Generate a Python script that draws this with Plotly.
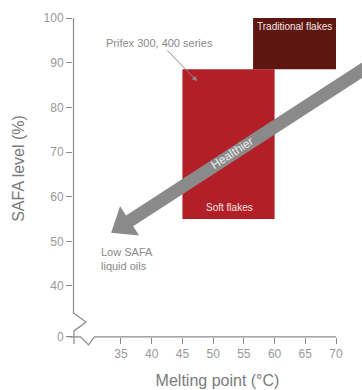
import math
import plotly.graph_objects as go

# ---- data ----
products = ["Soft flakes", "Traditional flakes"]
melt_min = [45, 56.5]
melt_max = [60, 70]
safa_min = [55, 88.5]
safa_max = [88.5, 100]
product_colors = ["#b21f27", "#5e1610"]

x_tickvals = [35, 40, 45, 50, 55, 60, 65, 70]
y_ticktext = ["0", "40", "50", "60", "70", "80", "90", "100"]
Y_ZERO_POS = 28.6  # broken axis: "0" drawn below the break
y_tickvals = [Y_ZERO_POS, 40, 50, 60, 70, 80, 90, 100]

# arrow "Healthier" endpoints (data units)
arrow_tail = (78.8, 92.4)
arrow_tip = (33.4, 51.9)

# ---- layout geometry ----
W, H = 362, 390
L, R, T, B = 73, 0, 0, 53
PW, PH = W - L - R, H - T - B
XR = [27.19, 74.23]
YR = [28.58, 104.03]


def x2px(x):
    return L + (x - XR[0]) / (XR[1] - XR[0]) * PW


def y2px(y):
    return T + (YR[1] - y) / (YR[1] - YR[0]) * PH


def px2x(p):
    return XR[0] + (p - L) / PW * (XR[1] - XR[0])


def py2y(p):
    return YR[1] - (p - T) / PH * (YR[1] - YR[0])


def pxpaper(p):
    return (p - L) / PW


def pypaper(p):
    return (T + PH - p) / PH


fig = go.Figure()

for name, x0, x1, y0, y1, c in zip(products, melt_min, melt_max, safa_min, safa_max, product_colors):
    fig.add_trace(go.Scatter(
        x=[x0, x1, x1, x0, x0], y=[y0, y0, y1, y1, y0],
        fill="toself", fillcolor=c, mode="lines", line=dict(width=0, color=c),
        name=name, showlegend=False, hoverinfo="name"))

grey = "#8a8a8a"
shapes = []

# big arrow built in pixel space
tx, ty = x2px(arrow_tail[0]), y2px(arrow_tail[1])
hx, hy = x2px(arrow_tip[0]), y2px(arrow_tip[1])
dx, dy = hx - tx, hy - ty
ln = math.hypot(dx, dy)
ux, uy = dx / ln, dy / ln
nx, ny = -uy, ux
head_len, head_hw, shaft_hw = 22, 17.5, 6.5
bx, by = hx - ux * head_len, hy - uy * head_len
pts = [
    (tx + nx * shaft_hw, ty + ny * shaft_hw),
    (bx + nx * shaft_hw, by + ny * shaft_hw),
    (bx + nx * head_hw, by + ny * head_hw),
    (hx, hy),
    (bx - nx * head_hw, by - ny * head_hw),
    (bx - nx * shaft_hw, by - ny * shaft_hw),
    (tx - nx * shaft_hw, ty - ny * shaft_hw),
]
path = "M " + " L ".join(f"{px2x(a):.4f},{py2y(b):.4f}" for a, b in pts) + " Z"
shapes.append(dict(type="path", xref="x", yref="y", path=path,
                   fillcolor=grey, line=dict(width=0), layer="above"))

# axis lines with breaks (paper coordinates)
ax_y = x2px(XR[0]) + 0.5
base = y2px(Y_ZERO_POS)
top = y2px(100)
ypath_px = [(ax_y, top), (ax_y, base - 24), (ax_y + 12.5, base - 15),
            (ax_y + 0.5, base - 6), (ax_y + 0.5, base + 7)]
xpath_px = [(ax_y - 5, base), (ax_y + 7, base), (ax_y + 15, base + 8),
            (ax_y + 21, base), (x2px(70), base)]
for pp in (ypath_px, xpath_px):
    p = "M " + " L ".join(f"{pxpaper(a):.5f},{pypaper(b):.5f}" for a, b in pp)
    shapes.append(dict(type="path", xref="paper", yref="paper", path=p,
                       line=dict(color=grey, width=1.2)))

font = "Liberation Sans, Arial, sans-serif"
annotations = [
    dict(x=47.4, y=85.9, ax=41.35, ay=94.4, axref="x", ayref="y",
         text="Prifex 300, 400 series", showarrow=True, arrowhead=2,
         arrowsize=1, arrowwidth=1, arrowcolor=grey,
         font=dict(size=11, color="#8a8a8a")),
    dict(x=63.25, y=98.0, text="Traditional flakes", showarrow=False,
         font=dict(size=10, color="#f0e6e4")),
    dict(x=52.6, y=57.6, text="Soft flakes", showarrow=False,
         font=dict(size=10, color="#f3e4e4")),
    dict(x=53.1, y=69.8, text="Healthier", showarrow=False, textangle=-33,
         font=dict(size=12, color="#eeeeee")),
    dict(x=31.42, y=46.05, text="Low SAFA<br>liquid oils", showarrow=False,
         xanchor="left", yanchor="middle", align="left",
         font=dict(size=11, color="#8a8a8a")),
]

fig.update_layout(
    width=W, height=H,
    margin=dict(l=L, r=R, t=T, b=B, pad=0),
    paper_bgcolor="white", plot_bgcolor="white",
    font=dict(family=font, color="#8a8a8a"),
    shapes=shapes, annotations=annotations,
    xaxis=dict(range=XR, tickvals=x_tickvals, showgrid=False, zeroline=False,
               showline=False, ticks="outside", ticklen=6, tickcolor=grey,
               tickfont=dict(size=12, color="#999999"),
               title=dict(text="Melting point (°C)", font=dict(size=16, color="#7a7a7a"),
                          standoff=14)),
    yaxis=dict(range=YR, tickvals=y_tickvals, ticktext=y_ticktext, showgrid=False,
               zeroline=False, showline=False, ticks="outside", ticklen=6,
               tickcolor=grey, tickfont=dict(size=12, color="#999999"),
               title=dict(text="SAFA level (%)", font=dict(size=16, color="#7a7a7a"),
                          standoff=14)),
)

fig.write_html("out.html")
